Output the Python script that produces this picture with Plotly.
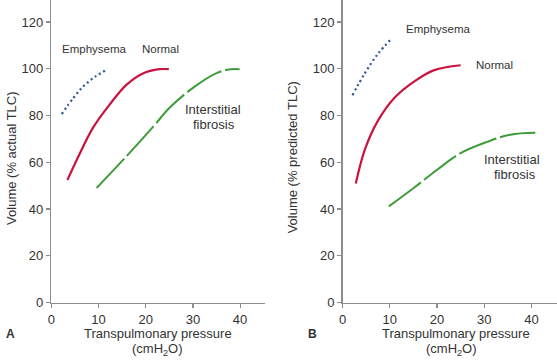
import plotly.graph_objects as go

# ---- Data ----
# Panel A: Volume (% actual TLC)
a_emph_x = [2.2, 4.7, 6.8, 9.3, 11.6]
a_emph_y = [80.6, 87.6, 92.5, 96.6, 99.4]
a_norm_x = [3.4, 5.4, 8.9, 12.4, 15.9, 19.4, 22.9, 24.9]
a_norm_y = [52.4, 61.1, 75.0, 84.8, 93.1, 98.0, 99.8, 99.8]
a_fib_x = [9.6, 15.9, 21.5, 25.1, 30.0, 34.9, 37.6, 39.9]
a_fib_y = [49.0, 62.5, 75.0, 83.4, 91.8, 98.0, 99.7, 99.8]

# Panel B: Volume (% predicted TLC)
b_emph_x = [2.1, 4.7, 7.5, 10.45]
b_emph_y = [88.7, 98.0, 106.4, 113.0]
b_norm_x = [2.8, 4.7, 7.5, 11.0, 15.2, 19.4, 25.0]
b_norm_y = [50.9, 65.3, 77.8, 87.6, 94.6, 99.4, 101.5]
b_fib_x = [9.8, 15.2, 20.1, 25.0, 30.6, 35.5, 40.8]
b_fib_y = [41.1, 49.2, 56.9, 63.9, 68.7, 71.8, 72.6]

x_ticks = [0, 10, 20, 30, 40]
y_ticks = [0, 20, 40, 60, 80, 100, 120]

RED = "#c8143f"
GREEN = "#3f9c3a"
BLUE = "#2c5796"
TXT = "#333333"
AXC = "#8e8e8e"
FONT = "Liberation Sans, Arial, sans-serif"

W, H = 557, 364


def px(x):
    return x / W


def py(y):
    return 1 - y / H


fig = go.Figure()

def add(x, y, color, dash, width, xa, ya):
    fig.add_trace(go.Scatter(x=x, y=y, mode="lines", xaxis=xa, yaxis=ya,
                             line=dict(color=color, dash=dash, width=width,
                                       shape="spline", smoothing=1.0),
                             showlegend=False, hoverinfo="skip"))

add(a_emph_x, a_emph_y, BLUE, "2px,3px", 2.2, "x", "y")
add(a_norm_x, a_norm_y, RED, "solid", 2.2, "x", "y")
add(a_fib_x, a_fib_y, GREEN, "40px,4px", 2.0, "x", "y")
add(b_emph_x, b_emph_y, BLUE, "2px,3px", 2.2, "x2", "y2")
add(b_norm_x, b_norm_y, RED, "solid", 2.2, "x2", "y2")
add(b_fib_x, b_fib_y, GREEN, "40px,4px", 2.0, "x2", "y2")

axis_common = dict(showgrid=False, zeroline=False, showline=True,
                   linecolor=AXC, linewidth=1.5, ticks="outside",
                   ticklen=4, tickwidth=1.2, tickcolor=AXC,
                   tickfont=dict(family=FONT, size=13, color=TXT))

ydom = [py(309.3), 1.0]
fig.update_layout(
    width=W, height=H,
    margin=dict(l=0, r=0, t=0, b=0),
    paper_bgcolor="white", plot_bgcolor="white",
    hovermode=False,
    xaxis=dict(domain=[px(47.7), px(263)], range=[0, 45.3],
               tickvals=x_ticks, anchor="y", **axis_common),
    yaxis=dict(domain=ydom, range=[0, 129.4], tickvals=y_ticks,
               anchor="x", **axis_common),
    xaxis2=dict(domain=[px(341), 1.0], range=[0, 45.4],
                tickvals=x_ticks, anchor="y2", **axis_common),
    yaxis2=dict(domain=ydom, range=[0, 129.4], tickvals=y_ticks,
                anchor="x2", **axis_common),
)

def ann(text, x, y, size=13, angle=0, bold=False, yanchor="middle"):
    fig.add_annotation(text=("<b>%s</b>" % text) if bold else text,
                       x=px(x), y=py(y), xref="paper", yref="paper",
                       showarrow=False, textangle=angle,
                       xanchor="center", yanchor=yanchor, borderpad=0,
                       font=dict(family=FONT, size=size, color=TXT))

# Axis titles
ann("Volume (% actual TLC)", 7.5, 162, angle=-90)
ann("Volume (% predicted TLC)", 291, 161, angle=-90)
ann("Transpulmonary pressure", 155, 340.5)
ann("(cmH<sub>2</sub>O)", 155, 348, yanchor="top")
ann("Transpulmonary pressure", 455, 340.5)
ann("(cmH<sub>2</sub>O)", 451, 348, yanchor="top")
# Panel letters
ann("A", 6.5, 341, size=12, bold=True)
ann("B", 311, 341, size=12, bold=True)

# Curve labels panel A
ann("Emphysema", 91.3, 50, size=11.5)
ann("Normal", 158, 50, size=11.5)
ann("Interstitial", 211, 111.7)
ann("fibrosis", 211.5, 127.7)
# Curve labels panel B
ann("Emphysema", 437.5, 30, size=11.5)
ann("Normal", 494.5, 66.7, size=11.5)
ann("Interstitial", 511.5, 163.3)
ann("fibrosis", 515, 178.3)

fig.write_html("out.html",
               config={"displayModeBar": False, "staticPlot": True},
               post_script="document.body.style.margin='0';"
                           "document.body.style.overflow='hidden';")
